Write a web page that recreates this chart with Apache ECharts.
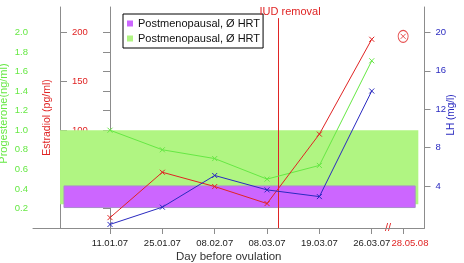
<!DOCTYPE html>
<html>
<head>
<meta charset="utf-8">
<script src="https://cdn.jsdelivr.net/npm/echarts@6/dist/echarts.min.js"></script>
<style>
  html, body { margin: 0; padding: 0; background: #fff; }
  #chart { width: 464px; height: 263px; }
</style>
</head>
<body>
<div id="chart"></div>
<script>
  // sampling days (x index 0..5), plus one late sample after the axis break
  const dates = ['11.01.07', '25.01.07', '08.02.07', '08.03.07', '19.03.07', '26.03.07'];
  const progesterone = [1.0, 0.80, 0.71, 0.50, 0.64, 1.71];   // ng/ml
  const estradiol = [10.6, 57, 42.4, 25, 96, 193];            // pg/ml
  const lh = [0.0, 1.8, 5.1, 3.6, 2.9, 13.9];                 // mg/l
  const lateDate = '28.05.08';
  const lateX = 5.6;
  const lateLabelX = 5.73;
  const lateEstradiol = 196;

  // postmenopausal reference ranges
  const progRange = [0.243, 1.0];
  const estrRange = [20.9, 43];
  const iudRemovalX = 3.21;

  const progTicks = [0.2, 0.4, 0.6, 0.8, 1.0, 1.2, 1.4, 1.6, 1.8, 2.0];
  const estrTicks = [50, 100, 150, 200];
  const lhTicks = [4, 8, 12, 16, 20];

  const dayTicks = dates.map((d, i) => i);
  const xTicks = dayTicks.concat([lateX]);
  const xLabelPos = dayTicks.concat([lateLabelX]);
  const xLabels = dates.concat([lateDate]);

  const GREEN = '#66e844';
  const RED = '#e02424';
  const BLUE = '#2a2ac0';
  const AXIS = '#8c8c8c';
  const FONT = 'Liberation Sans, Arial, Helvetica, sans-serif';
  const CROSS = 'path://M0,0L10,10M0,10L10,0';

  const chart = echarts.init(document.getElementById('chart'));

  function pairs(vals) {
    return vals.map((v, i) => [i, v]);
  }

  function labelFor(v) {
    for (let i = 0; i < xLabelPos.length; i++) {
      if (Math.abs(xLabelPos[i] - v) < 1e-6) return xLabels[i];
    }
    return '';
  }

  function lineSeries(name, data, axis, color) {
    return {
      name: name,
      type: 'line',
      yAxisIndex: axis,
      data: data,
      symbol: CROSS,
      symbolSize: 5,
      lineStyle: { color: color, width: 1 },
      itemStyle: { color: color, borderColor: color, borderWidth: 1 },
      emphasis: { disabled: true },
      z: 5
    };
  }

  const progSeries = lineSeries('Progesterone', pairs(progesterone), 0, GREEN);
  progSeries.markLine = {
    silent: true,
    symbol: 'none',
    lineStyle: { color: RED, width: 1, type: 'solid' },
    label: {
      show: true,
      position: 'end',
      formatter: 'IUD removal',
      color: RED,
      fontSize: 11,
      fontFamily: FONT,
      distance: 1,
      offset: [12, 0]
    },
    data: [[{ coord: [iudRemovalX, 0] }, { coord: [iudRemovalX, 2.146] }]]
  };

  chart.setOption({
    animation: false,
    backgroundColor: '#fff',
    textStyle: { fontFamily: FONT },
    grid: { left: 33, right: 39.5, top: 7, bottom: 35, containLabel: false, outerBoundsMode: 'none' },
    legend: {
      orient: 'vertical',
      left: 123,
      top: 14,
      data: ['E band', 'P band'],
      formatter: function () { return 'Postmenopausal, Ø HRT'; },
      icon: 'rect',
      itemWidth: 6,
      itemHeight: 6,
      itemGap: 4,
      padding: [4, 3, 4, 4],
      borderColor: '#000',
      borderWidth: 1,
      backgroundColor: '#fff',
      textStyle: { fontSize: 11, color: '#111', fontFamily: FONT },
      selectedMode: false
    },
    xAxis: {
      type: 'value',
      min: -1.471,
      max: 6.008,
      name: 'Day before ovulation',
      nameLocation: 'middle',
      nameGap: 23,
      nameMoveOverlap: false,
      nameTextStyle: { fontSize: 11.5, color: '#333', fontFamily: FONT },
      axisLine: { lineStyle: { color: AXIS } },
      axisTick: { customValues: xTicks, length: 6, lineStyle: { color: AXIS } },
      axisLabel: {
        customValues: xLabelPos,
        formatter: labelFor,
        color: function (v) { return Math.abs(v - lateLabelX) < 1e-6 ? RED : '#222'; },
        fontSize: 9.5,
        margin: 10,
        hideOverlap: false
      },
      splitLine: { show: false }
    },
    yAxis: [
      {
        type: 'value',
        position: 'left',
        offset: -7,
        min: 0,
        max: 2.26,
        name: 'Progesterone(ng/ml)',
        nameLocation: 'middle',
        nameGap: 31,
        nameMoveOverlap: false,
        nameTextStyle: { fontSize: 11, color: GREEN, padding: [0, 0, 0, 8] },
        axisLine: { show: true, lineStyle: { color: AXIS } },
        axisTick: { show: true, customValues: progTicks, length: 7, lineStyle: { color: AXIS } },
        axisLabel: {
          customValues: progTicks,
          formatter: function (v) { return v.toFixed(1); },
          color: GREEN,
          fontSize: 9.5,
          margin: 12
        },
        splitLine: { show: false }
      },
      {
        type: 'value',
        position: 'left',
        offset: -27,
        min: 0,
        max: 226,
        name: 'Estradiol (pg/ml)',
        nameLocation: 'middle',
        nameGap: 7,
        nameMoveOverlap: false,
        nameTextStyle: { fontSize: 10.5, color: RED },
        axisLine: { show: true, lineStyle: { color: AXIS } },
        axisTick: { show: true, inside: true, customValues: estrTicks, length: 7, lineStyle: { color: AXIS } },
        axisLabel: { inside: true, customValues: estrTicks, color: RED, fontSize: 9.5, margin: 12 },
        splitLine: { show: false }
      },
      {
        type: 'value',
        position: 'right',
        min: -0.37,
        max: 22.65,
        name: 'LH (mg/l)',
        nameLocation: 'middle',
        nameGap: 22,
        nameMoveOverlap: false,
        nameTextStyle: { fontSize: 10, color: BLUE, padding: [0, 0, 0, 5] },
        axisLine: { show: true, lineStyle: { color: AXIS } },
        axisTick: { show: true, customValues: lhTicks, length: 6, lineStyle: { color: AXIS } },
        axisLabel: { customValues: lhTicks, color: BLUE, fontSize: 9.5, margin: 11 },
        splitLine: { show: false }
      }
    ],
    graphic: [
      {
        type: 'text',
        left: 385,
        top: 222,
        style: { text: '//', fill: RED, fontSize: 11, fontFamily: FONT }
      }
    ],
    series: [
      {
        name: 'P band',
        type: 'line',
        yAxisIndex: 0,
        data: [],
        itemStyle: { color: '#b0f582' },
        markArea: {
          silent: true,
          label: { show: false },
          itemStyle: { color: '#b0f582', opacity: 1 },
          data: [[{ coord: [-0.955, progRange[0]] }, { coord: [5.89, progRange[1]] }]]
        },
        z: 1
      },
      {
        name: 'E band',
        type: 'line',
        yAxisIndex: 1,
        data: [],
        itemStyle: { color: '#cc66ff' },
        markArea: {
          silent: true,
          label: { show: false },
          itemStyle: { color: '#cc66ff', opacity: 1, borderColor: '#a98ccc', borderWidth: 1 },
          data: [[{ coord: [-0.879, estrRange[0]] }, { coord: [5.83, estrRange[1]] }]]
        },
        z: 2
      },
      progSeries,
      lineSeries('Estradiol', pairs(estradiol), 1, RED),
      lineSeries('LH', pairs(lh), 2, BLUE),
      {
        name: 'Estradiol late',
        type: 'scatter',
        yAxisIndex: 1,
        data: [[lateX, lateEstradiol]],
        symbol: CROSS,
        symbolSize: 5,
        itemStyle: { color: RED, borderColor: RED, borderWidth: 1 },
        emphasis: { disabled: true },
        z: 5
      },
      {
        name: 'Estradiol late ring',
        type: 'scatter',
        yAxisIndex: 1,
        data: [[lateX, lateEstradiol]],
        symbol: 'circle',
        symbolSize: [10, 12],
        itemStyle: { color: 'rgba(0,0,0,0)', borderColor: RED, borderWidth: 1 },
        emphasis: { disabled: true },
        z: 5
      }
    ]
  });
</script>
</body>
</html>
